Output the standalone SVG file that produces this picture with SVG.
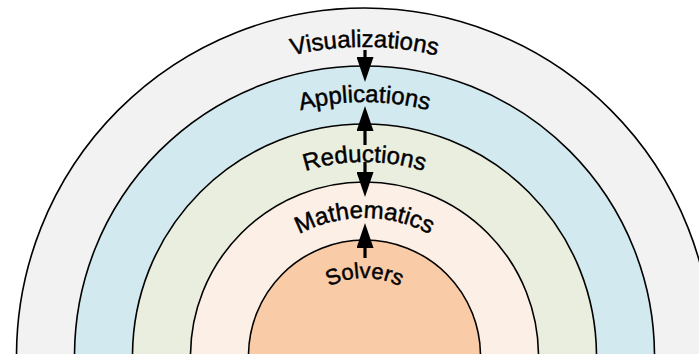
<svg xmlns="http://www.w3.org/2000/svg" width="699" height="354" viewBox="0 0 699 354">
<style>
.ring{stroke:#000;stroke-width:1.6}
.lbl{font-family:"Liberation Sans",Arial,sans-serif;font-size:24px;fill:#000;stroke:#000;stroke-width:0.45}
.arr{stroke:#000;stroke-width:3.2;fill:none}
</style>
<defs>
<marker id="ah" markerUnits="userSpaceOnUse" markerWidth="25" markerHeight="17" refX="0" refY="8.5" orient="auto" viewBox="0 0 25 17">
<path d="M0,0 L25,8.5 L0,17 z" fill="#000"/>
</marker>
<path id="p5" d="M55.5,356 A309,309 0 0 1 673.5,356"/>
<path id="p4" d="M110.5,356 A254,254 0 0 1 618.5,356"/>
<path id="p3" d="M170.5,356 A194,194 0 0 1 558.5,356"/>
<path id="p2" d="M226.5,356 A138,138 0 0 1 502.5,356"/>
<path id="p1" d="M286.5,356 A78,78 0 0 1 442.5,356"/>
</defs>
<rect width="699" height="354" fill="#fff"/>
<g id="visualizations">
<circle class="ring" cx="364.5" cy="356" r="348" fill="#f2f2f2"/>
</g>
<g id="applications">
<circle class="ring" cx="364.5" cy="356" r="290" fill="#d2e9ef"/>
</g>
<g id="reductions">
<circle class="ring" cx="364.5" cy="356" r="232" fill="#eaeedf"/>
</g>
<g id="mathematics">
<circle class="ring" cx="364.5" cy="356" r="174" fill="#fcefe5"/>
</g>
<g id="solvers">
<circle class="ring" cx="364.5" cy="356" r="116" fill="#f9cba6"/>
</g>
<g id="connectors">
<line class="arr" x1="365" y1="50" x2="365" y2="57" marker-end="url(#ah)"/>
<line class="arr" x1="365" y1="145" x2="365" y2="131" marker-end="url(#ah)"/>
<line class="arr" x1="365" y1="162" x2="365" y2="172" marker-end="url(#ah)"/>
<line class="arr" x1="365" y1="258" x2="365" y2="248" marker-end="url(#ah)"/>
</g>
<g id="labels">
<text class="lbl"><textPath href="#p5" startOffset="50%" text-anchor="middle">Visualizations</textPath></text>
<text class="lbl"><textPath href="#p4" startOffset="50%" text-anchor="middle">Applications</textPath></text>
<text class="lbl"><textPath href="#p3" startOffset="50%" text-anchor="middle">Reductions</textPath></text>
<text class="lbl"><textPath href="#p2" startOffset="50%" text-anchor="middle">Mathematics</textPath></text>
<text class="lbl" style="font-size:22px"><textPath href="#p1" startOffset="50%" text-anchor="middle">Solvers</textPath></text>
</g>
</svg>
